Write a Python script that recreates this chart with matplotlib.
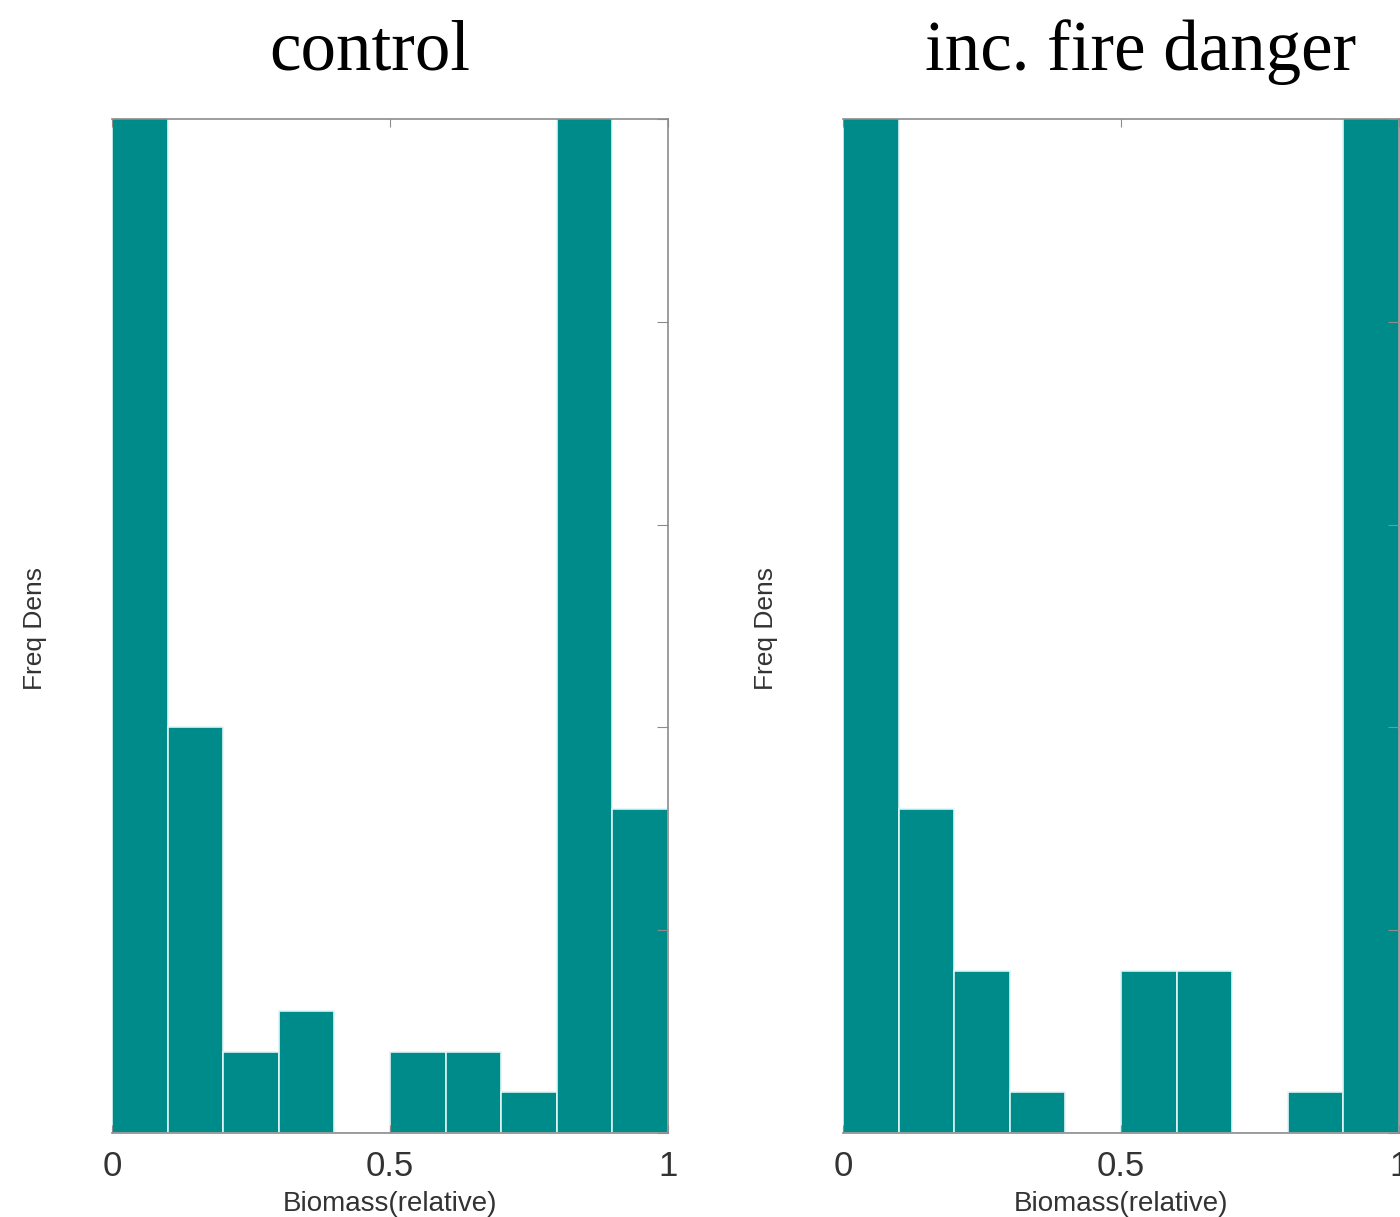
import numpy as np
import matplotlib
matplotlib.use("Agg")
import matplotlib.pyplot as plt

# histogram bins (relative biomass) and frequency density per bin
bin_edges = [0.0, 0.1, 0.2, 0.3, 0.4, 0.5, 0.6, 0.7, 0.8, 0.9, 1.0]
control_dens = [28, 10, 2, 3, 0, 2, 2, 1, 28, 8]
fire_dens = [28, 8, 4, 1, 0, 4, 4, 0, 1, 28]

panel_titles = ["control", "inc. fire danger"]
x_ticks = [0, 0.5, 1]
x_ticklabels = ["0", "0.5", "1"]
y_ticks = [0, 5, 10, 15, 20, 25]

teal = "#008b8b"
spine_gray = "#8c8c8c"
text_gray = "#333333"

W, H = 1400, 1217
fig = plt.figure(figsize=(W / 100, H / 100), dpi=100)

panels = [
    (control_dens, 112, 668, 370, 35),
    (fire_dens, 843, 1399, 1141, 766),
]

for (dens, x0, x1, title_x, ylab_x), title in zip(panels, panel_titles):
    ax = fig.add_axes([x0 / W, 1 - 1133 / H, (x1 - x0) / W, 1014 / H])
    lefts = np.array(bin_edges[:-1])
    ax.bar(lefts, dens, width=np.diff(bin_edges), align="edge",
           color=teal, edgecolor="#dff5f5", linewidth=1.2)
    ax.set_xlim(0, 1)
    ax.set_ylim(0, 25)

    ax.set_xticks(x_ticks)
    ax.set_xticklabels(x_ticklabels, fontsize=25, color=text_gray,
                       family="Liberation Sans")
    ax.tick_params(axis="x", bottom=True, length=0, pad=12)
    ax.tick_params(axis="x", which="major", top=True, direction="in",
                   length=6, color=spine_gray)
    ax.set_yticks(y_ticks)
    ax.tick_params(axis="y", left=False, right=True, direction="in",
                   length=8, color=spine_gray, labelleft=False)

    for side in ["top", "right", "bottom"]:
        ax.spines[side].set_color(spine_gray)
        ax.spines[side].set_linewidth(1.2)
    ax.spines["left"].set_visible(False)

    ax.set_xlabel("Biomass(relative)", fontsize=20, color=text_gray,
                  family="Liberation Sans", labelpad=6)
    fig.text(ylab_x / W, 1 - 628 / H, "Freq Dens", rotation=90,
             fontsize=19, color=text_gray, family="Liberation Sans",
             ha="center", va="center")
    fig.text(title_x / W, 1 - 52 / H, title, fontsize=51,
             family="Liberation Serif", ha="center", va="center",
             color="black")

fig.savefig("out.png", dpi=100)
